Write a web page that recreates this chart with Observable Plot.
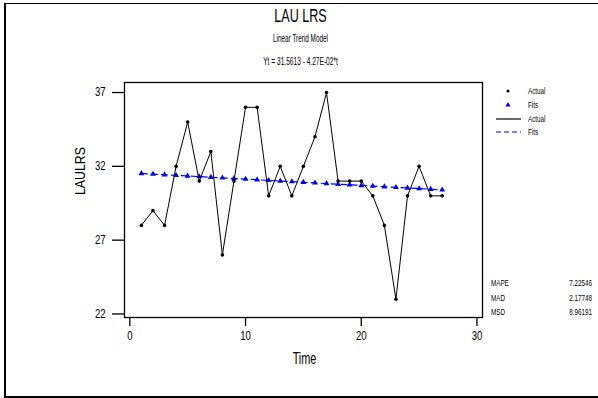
<!DOCTYPE html>
<html>
<head>
<meta charset="utf-8">
<script src="https://cdn.jsdelivr.net/npm/d3@7"></script>
<script src="https://cdn.jsdelivr.net/npm/@observablehq/plot@0.6"></script>
<style>
  html, body { margin: 0; padding: 0; background: #fff; }
  #wrap { position: relative; width: 598px; height: 398px; overflow: hidden; }
  #border { position: absolute; left: 4px; top: 3px; width: 600px; height: 392px;
            border-left: 2px solid #000; border-top: 1px solid #000; border-bottom: 2px solid #000; }
  #chart { position: absolute; left: 0; top: 0; }
</style>
</head>
<body>
<div id="wrap"><div id="border"></div><div id="chart"></div></div>
<script>
// Time index and observed LAULRS values
const time   = [1, 2, 3, 4, 5, 6, 7, 8, 9, 10, 11, 12, 13, 14, 15, 16, 17, 18, 19, 20, 21, 22, 23, 24, 25, 26, 27];
const actual = [28, 29, 28, 32, 35, 31, 33, 26, 31, 36, 36, 30, 32, 30, 32, 34, 37, 31, 31, 31, 30, 28, 23, 30, 32, 30, 30];

// Linear trend model coefficients: Yt = b0 + b1*t
const intercept = 31.5613;
const slope = -4.27e-2;

// Accuracy measures
const statNames  = ["MAPE", "MAD", "MSD"];
const statValues = ["7.22546", "2.17748", "8.96191"];

const xTicks = [0, 10, 20, 30];
const yTicks = [22, 27, 32, 37];

const legendLabels = ["Actual", "Fits", "Actual", "Fits"];

const actualData = time.map((t, i) => ({t, v: actual[i]}));
const fitData = time.map(t => ({t, v: intercept + slope * t}));

const FONT = '"Liberation Sans", Arial, sans-serif';

const chart = Plot.plot({
  width: 598,
  height: 398,
  marginLeft: 124,
  marginRight: 116,
  marginTop: 82,
  marginBottom: 81,
  style: {fontFamily: FONT, background: "transparent", color: "#000", overflow: "visible"},
  x: {domain: [-0.46, 30.48]},
  y: {domain: [21.76, 37.68]},
  marks: [
    Plot.frame({stroke: "#000", strokeWidth: 1.3}),
    Plot.axisY({ticks: yTicks, tickSize: 12, tickPadding: 7, fontSize: 12, label: null, strokeWidth: 1.3}),
    Plot.axisX({ticks: xTicks, tickSize: 9, tickPadding: 5, fontSize: 12, label: null, strokeWidth: 1.3}),
    Plot.line(fitData, {x: "t", y: "v", stroke: "#0000ff", strokeWidth: 1.2, strokeDasharray: "6,4"}),
    Plot.dot(fitData, {x: "t", y: "v", symbol: "triangle", fill: "#0000ff", stroke: "none", r: 2.2}),
    Plot.line(actualData, {x: "t", y: "v", stroke: "#000", strokeWidth: 1}),
    Plot.dot(actualData, {x: "t", y: "v", fill: "#000", stroke: "none", r: 1.8}),
    // Titles
    Plot.text(["LAU LRS"], {frameAnchor: "top", dx: -3, dy: -66, fontSize: 18, lineAnchor: "middle"}),
    Plot.text(["Linear Trend Model"], {frameAnchor: "top", dx: -3, dy: -44, fontSize: 10, lineAnchor: "middle"}),
    Plot.text(["Yt = 31.5613 - 4.27E-02*t"], {frameAnchor: "top", dx: -3, dy: -21, fontSize: 10, lineAnchor: "middle"}),
    // Axis titles
    Plot.text(["LAULRS"], {frameAnchor: "left", dx: -44, dy: -5, rotate: -90, fontSize: 14, lineAnchor: "middle"}),
    Plot.text(["Time"], {frameAnchor: "bottom", dx: 1, dy: 41, fontSize: 16, lineAnchor: "middle"})
  ]
});
document.getElementById("chart").appendChild(chart);

const svg = d3.select(chart);

// Legend beside the plot frame
const lx = 482, ly = 82;
const side = svg.append("g").attr("font-family", FONT).attr("font-size", 9).attr("text-anchor", "start");
const rowY = [9, 23, 37, 50].map(d => ly + d);
side.append("circle").attr("cx", lx + 26).attr("cy", rowY[0]).attr("r", 1.5).attr("fill", "#000");
side.append("path").attr("d", d3.symbol(d3.symbolTriangle, 12)()).attr("transform", `translate(${lx + 26},${rowY[1]})`).attr("fill", "#0000ff");
side.append("line").attr("x1", lx + 14).attr("x2", lx + 39).attr("y1", rowY[2]).attr("y2", rowY[2]).attr("stroke", "#000").attr("stroke-width", 1.2);
side.append("line").attr("x1", lx + 14).attr("x2", lx + 39).attr("y1", rowY[3]).attr("y2", rowY[3]).attr("stroke", "#0000ff").attr("stroke-width", 1.2).attr("stroke-dasharray", "5,3");
side.selectAll("text.leg").data(legendLabels).join("text").attr("class", "leg")
  .attr("x", lx + 46).attr("y", (d, i) => rowY[i]).attr("dy", "0.35em").text(d => d);

// Accuracy measures below the legend
const sy = [283, 297.5, 312];
side.selectAll("text.sn").data(statNames).join("text").attr("class", "sn")
  .attr("x", 491).attr("y", (d, i) => sy[i]).attr("dy", "0.35em").text(d => d);
side.selectAll("text.sv").data(statValues).join("text").attr("class", "sv")
  .attr("x", 592).attr("y", (d, i) => sy[i]).attr("dy", "0.35em").attr("text-anchor", "end").text(d => d);

// Narrow the lettering horizontally, each text scaled about its own anchor point
const narrow = new Map([["LAU LRS", 0.7], ["Linear Trend Model", 0.64], ["Yt = 31.5613 - 4.27E-02*t", 0.66],
                        ["LAULRS", 0.88], ["Time", 0.68]]);
svg.selectAll("text").each(function() {
  const el = this;
  const txt = el.textContent;
  let k = narrow.get(txt);
  if (k === undefined) k = /^\d+$/.test(txt) ? 0.8 : 0.7;
  const b = el.getBBox();
  const anchor = getComputedStyle(el).textAnchor;
  const ax = anchor === "middle" ? b.x + b.width / 2 : anchor === "end" ? b.x + b.width : b.x;
  const t = el.getAttribute("transform") || "";
  el.setAttribute("transform", `${t} translate(${ax},0) scale(${k},1) translate(${-ax},0)`);
});
</script>
</body>
</html>
